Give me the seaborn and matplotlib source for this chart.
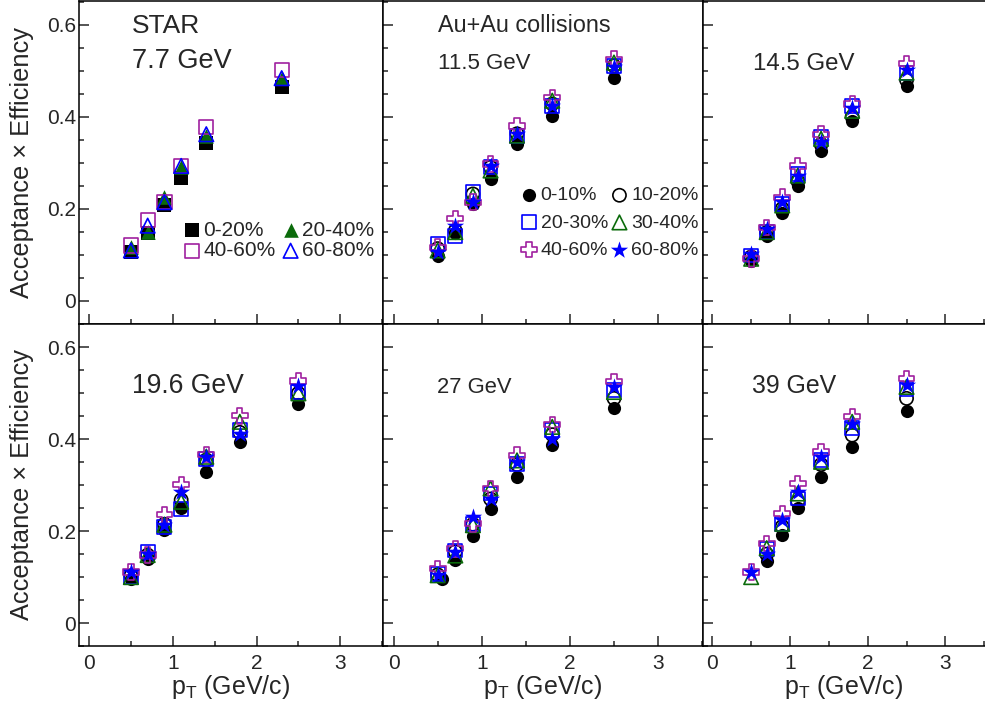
import numpy as np
import pandas as pd
import seaborn as sns
import matplotlib.pyplot as plt
from matplotlib.ticker import MultipleLocator

# pT bin centres (GeV/c)
pt = [0.5, 0.7, 0.9, 1.1, 1.4, 1.8, 2.5]
pt_77 = [0.5, 0.7, 0.9, 1.1, 1.4, 2.3]
pt_27_central = [0.55, 0.7, 0.9, 1.1, 1.4, 1.8, 2.5]

cent_77 = ["0-20%", "20-40%", "40-60%", "60-80%"]
cent = ["0-10%", "10-20%", "20-30%", "30-40%", "40-60%", "60-80%"]

# acceptance x efficiency
eff_77 = {
    "0-20%":  [0.105, 0.146, 0.209, 0.267, 0.342, 0.465],
    "20-40%": [0.116, 0.149, 0.225, 0.290, 0.359, 0.485],
    "40-60%": [0.120, 0.175, 0.214, 0.293, 0.378, 0.501],
    "60-80%": [0.109, 0.163, 0.214, 0.293, 0.362, 0.484],
}
eff_115 = {
    "0-10%":  [0.096, 0.146, 0.210, 0.265, 0.341, 0.402, 0.485],
    "10-20%": [0.113, 0.152, 0.232, 0.290, 0.363, 0.428, 0.511],
    "20-30%": [0.124, 0.141, 0.236, 0.290, 0.359, 0.424, 0.511],
    "30-40%": [0.109, 0.149, 0.228, 0.283, 0.359, 0.435, 0.518],
    "40-60%": [0.116, 0.178, 0.214, 0.297, 0.380, 0.442, 0.525],
    "60-80%": [0.105, 0.163, 0.214, 0.293, 0.362, 0.424, 0.509],
}
eff_145 = {
    "0-10%":  [0.087, 0.141, 0.191, 0.250, 0.326, 0.391, 0.467],
    "10-20%": [0.095, 0.148, 0.200, 0.260, 0.340, 0.400, 0.480],
    "20-30%": [0.098, 0.149, 0.210, 0.275, 0.355, 0.424, 0.496],
    "30-40%": [0.091, 0.149, 0.207, 0.272, 0.352, 0.413, 0.496],
    "40-60%": [0.091, 0.159, 0.225, 0.293, 0.362, 0.428, 0.516],
    "60-80%": [0.101, 0.156, 0.214, 0.272, 0.344, 0.420, 0.501],
}
eff_196 = {
    "0-10%":  [0.095, 0.139, 0.202, 0.251, 0.329, 0.394, 0.476],
    "10-20%": [0.103, 0.148, 0.215, 0.268, 0.355, 0.415, 0.500],
    "20-30%": [0.100, 0.155, 0.209, 0.249, 0.358, 0.420, 0.503],
    "30-40%": [0.100, 0.148, 0.214, 0.264, 0.362, 0.438, 0.500],
    "40-60%": [0.111, 0.148, 0.236, 0.301, 0.367, 0.451, 0.527],
    "60-80%": [0.111, 0.151, 0.214, 0.285, 0.362, 0.412, 0.516],
}
eff_27 = {
    "0-10%":  [0.095, 0.137, 0.190, 0.249, 0.318, 0.387, 0.467],
    "10-20%": [0.105, 0.155, 0.215, 0.270, 0.345, 0.410, 0.489],
    "20-30%": [0.107, 0.158, 0.216, 0.282, 0.347, 0.420, 0.507],
    "30-40%": [0.104, 0.147, 0.213, 0.293, 0.354, 0.427, 0.503],
    "40-60%": [0.118, 0.162, 0.216, 0.293, 0.365, 0.432, 0.525],
    "60-80%": [0.104, 0.155, 0.231, 0.271, 0.351, 0.401, 0.514],
}
eff_39 = {
    "0-10%":  [np.nan, 0.134, 0.192, 0.251, 0.318, 0.383, 0.461],
    "10-20%": [np.nan, 0.150, 0.210, 0.264, 0.345, 0.409, 0.489],
    "20-30%": [np.nan, 0.162, 0.216, 0.271, 0.354, 0.425, 0.510],
    "30-40%": [0.100, 0.163, 0.216, 0.282, 0.351, 0.438, 0.514],
    "40-60%": [0.111, 0.173, 0.238, 0.303, 0.372, 0.449, 0.532],
    "60-80%": [0.111, 0.151, 0.224, 0.285, 0.362, 0.434, 0.518],
}

energies = ["7.7 GeV", "11.5 GeV", "14.5 GeV", "19.6 GeV", "27 GeV", "39 GeV"]
panels = [eff_77, eff_115, eff_145, eff_196, eff_27, eff_39]

purple = "#a0209f"
green = "#0b6b0b"
# marker, colour, filled, size
styles = {
    "0-20%":  ("s", "black", True, 100),
    "20-40%": ("^", green, True, 110),
    "40-60%": ("s", purple, False, 105),
    "60-80%": ("^", "blue", False, 110),
}
styles_all = {
    "0-10%":  ("o", "black", True, 90),
    "10-20%": ("o", "black", False, 90),
    "20-30%": ("s", "blue", False, 100),
    "30-40%": ("^", green, False, 110),
    "40-60%": ("P", purple, False, 130),
    "60-80%": ("*", "blue", True, 170),
}

sns.set_theme(style="ticks")
plt.rcParams["font.family"] = ["Liberation Sans", "DejaVu Sans"]
plt.rcParams["mathtext.default"] = "regular"

fig, axes = plt.subplots(2, 3, figsize=(9.85, 7.12), dpi=100,
                         gridspec_kw={"width_ratios": [304, 320, 282]})
fig.subplots_adjust(left=79/985, right=1.0, top=1 - 1/712, bottom=1 - 646/712,
                    wspace=0, hspace=0)

for i, (ax, data) in enumerate(zip(axes.flat, panels)):
    labels = cent_77 if i == 0 else cent
    st = styles if i == 0 else styles_all
    handles = {}
    for lab in labels:
        if i == 0:
            x = pt_77
        elif i == 4 and lab == "0-10%":
            x = pt_27_central
        else:
            x = pt
        df = pd.DataFrame({"pt": x, "eff": data[lab]}).dropna()
        m, c, filled, s = st[lab]
        sns.scatterplot(data=df, x="pt", y="eff", ax=ax, marker=m, s=s,
                        color=c, facecolor=c if filled else "none",
                        edgecolor=c, linewidth=0 if filled else 1.2,
                        legend=False, label=lab, zorder=3)
        handles[lab] = ax.collections[-1]

    ax.set_xlim(-0.12, 3.51)
    ax.set_ylim(-0.05, 0.652)
    ax.set_xticks([0, 1, 2, 3])
    ax.set_yticks([0, 0.2, 0.4, 0.6])
    ax.set_yticklabels(["0", "0.2", "0.4", "0.6"])
    ax.xaxis.set_minor_locator(MultipleLocator(0.5))
    ax.yaxis.set_minor_locator(MultipleLocator(0.05))
    ax.tick_params(which="major", direction="in", length=7.2, width=1.1,
                   labelsize=15, pad=2, top=False, right=False)
    ax.tick_params(axis="x", which="major", pad=6)
    ax.tick_params(which="minor", direction="in", length=3.4, width=1.1,
                   top=False, right=False)
    ax.tick_params(labelleft=(i % 3 == 0), labelbottom=(i >= 3))
    ax.set_xlabel("")
    ax.set_ylabel("")
    for sp in ax.spines.values():
        sp.set_linewidth(1.1)
        sp.set_color("black")
    if i == 2 or i == 5:
        ax.spines["right"].set_visible(False)
    if i >= 3:
        ax.set_xlabel(r"p$_{T}$ (GeV/c)", fontsize=18, labelpad=0)

    if i == 0:
        order = ["0-20%", "40-60%", "20-40%", "60-80%"]
        ax.legend([handles[k] for k in order], order, ncol=2, loc="upper left",
                  bbox_to_anchor=(0.348, 0.318), frameon=False, fontsize=15,
                  handlelength=0.7, handletextpad=0.2, columnspacing=0.36,
                  labelspacing=0.06, borderpad=0, borderaxespad=0, scatterpoints=1)
    if i == 1:
        order = ["0-10%", "20-30%", "40-60%", "10-20%", "30-40%", "60-80%"]
        ax.legend([handles[k] for k in order], order, ncol=2, loc="upper left",
                  bbox_to_anchor=(0.435, 0.424), frameon=False, fontsize=14,
                  handlelength=0.7, handletextpad=0.25, columnspacing=0.23,
                  labelspacing=0.49, borderpad=0, borderaxespad=0, scatterpoints=1)

# panel annotations
t = axes[0, 0]
t.text(0.174, 0.901, "STAR", transform=t.transAxes, fontsize=19, va="baseline")
t.text(0.174, 0.792, "7.7 GeV", transform=t.transAxes, fontsize=19.5, va="baseline")
t = axes[0, 1]
t.text(0.172, 0.904, "Au+Au collisions", transform=t.transAxes, fontsize=16.8, va="baseline")
t.text(0.172, 0.789, "11.5 GeV", transform=t.transAxes, fontsize=16, va="baseline")
t = axes[0, 2]
t.text(0.177, 0.786, "14.5 GeV", transform=t.transAxes, fontsize=17.3, va="baseline")
axes[1, 0].text(0.174, 0.783, "19.6 GeV", transform=axes[1, 0].transAxes,
                fontsize=19.1, va="baseline")
axes[1, 1].text(0.169, 0.783, "27 GeV", transform=axes[1, 1].transAxes,
                fontsize=15.8, va="baseline")
axes[1, 2].text(0.174, 0.783, "39 GeV", transform=axes[1, 2].transAxes,
                fontsize=17.9, va="baseline")

for yc in [1 - 162/712, 1 - 484.5/712]:
    fig.text(22/985, yc, "Acceptance \u00d7 Efficiency", rotation=90,
             ha="center", va="center", fontsize=18.3)

fig.savefig("out.png", dpi=100)
